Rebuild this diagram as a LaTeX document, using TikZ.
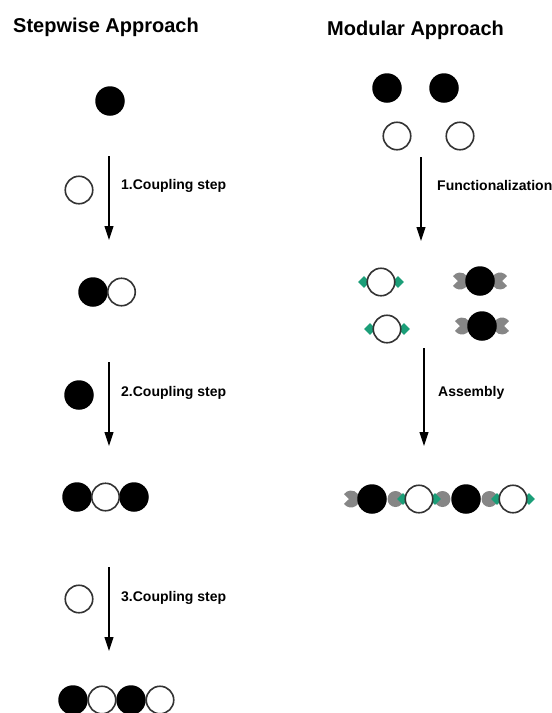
\documentclass[tikz,border=0pt]{standalone}
\usepackage{fontspec}
\setmainfont{Liberation Sans}
\usetikzlibrary{arrows.meta, shapes.geometric}
\definecolor{linkgreen}{HTML}{1B9E78}
\definecolor{hookgray}{HTML}{868686}

\begin{document}
\begin{tikzpicture}[x=1pt, y=-1pt,
  full/.style={circle, fill=black, minimum size=29.5pt, inner sep=0pt},
  hollow/.style={circle, draw=black!80, line width=1.6pt, fill=white, minimum size=27.5pt, inner sep=0pt},
  tip/.style={diamond, fill=linkgreen, minimum size=12pt, inner sep=0pt},
  joint/.style={circle, fill=hookgray, minimum size=16pt, inner sep=0pt},
  heading/.style={font=\bfseries\fontsize{20}{24}\selectfont, anchor=west, inner sep=0pt},
  stepname/.style={font=\bfseries\fontsize{14}{16}\selectfont, anchor=west, inner sep=0pt},
  flow/.style={-{Triangle[length=14pt, width=9pt]}, line width=1.1pt},
  hook/.pic={\fill[hookgray] (145:8.5) arc[start angle=145, end angle=-145, radius=8.5] -- (-2,0) -- cycle;}]
\useasboundingbox (0,0) rectangle (552,713);

% titles
\node[heading] (ttlA) at (13,27) {Stepwise Approach};
\node[heading] (ttlB) at (327,30) {Modular Approach};

% stepwise column
\node[full] (s0) at (110,101) {};
\coordinate (a1) at (109,156);
\coordinate (a1e) at (109,240);
\draw[flow] (a1) -- (a1e);
\node[hollow] (s1) at (79,190) {};
\node[stepname] (l1) at (121,186) {1.Coupling step};
\node[full] (p1) at (93,292) {};
\node[hollow] (p2) at (121.5,292) {};

\coordinate (a2) at (109,362);
\coordinate (a2e) at (109,446);
\draw[flow] (a2) -- (a2e);
\node[full] (s2) at (79,395) {};
\node[stepname] (l2) at (121,393) {2.Coupling step};
\node[full] (t1) at (77,497) {};
\node[full] (t3) at (134,497) {};
\node[hollow] (t2) at (105.5,497) {};

\coordinate (a3) at (109,567);
\coordinate (a3e) at (109,651);
\draw[flow] (a3) -- (a3e);
\node[hollow] (s3) at (79,599) {};
\node[stepname] (l3) at (121,598) {3.Coupling step};
\node[full] (q1) at (73,700) {};
\node[full] (q3) at (131,700) {};
\node[hollow] (q2) at (102,700) {};
\node[hollow] (q4) at (160,700) {};

% modular column
\node[full] (m1) at (387,88) {};
\node[full] (m2) at (444,88) {};
\node[hollow] (m3) at (397,136) {};
\node[hollow] (m4) at (460,136) {};

\coordinate (b1) at (421,157);
\coordinate (b1e) at (421,241);
\draw[flow] (b1) -- (b1e);
\node[stepname] (f1) at (437,185) {Functionalization};

% functionalized building blocks
\node[tip] (d1) at (364,282) {};
\node[tip] (d2) at (398,282) {};
\node[hollow] (w1) at (381,282) {};
\node[tip] (d3) at (370,329) {};
\node[tip] (d4) at (404,329) {};
\node[hollow] (w2) at (387,329) {};
\pic at (460,281) {hook};
\pic[rotate=180] at (500,281) {hook};
\node[full] (k1) at (480,281) {};
\pic at (462,326) {hook};
\pic[rotate=180] at (502,326) {hook};
\node[full] (k2) at (482,326) {};

\coordinate (b2) at (424,348);
\coordinate (b2e) at (424,446);
\draw[flow] (b2) -- (b2e);
\node[stepname] (f2) at (438,393) {Assembly};

% assembled chain
\pic at (351,499) {hook};
\node[joint] (j1) at (395.5,499) {};
\node[joint] (j2) at (442.5,499) {};
\node[joint] (j3) at (489.5,499) {};
\node[tip] (e1) at (403,499) {};
\node[tip] (e2) at (435,499) {};
\node[tip] (e3) at (497,499) {};
\node[tip] (e4) at (529,499) {};
\node[full] (c1) at (372,499) {};
\node[hollow] (c2) at (419,499) {};
\node[full] (c3) at (466,499) {};
\node[hollow] (c4) at (513,499) {};
\end{tikzpicture}
\end{document}
